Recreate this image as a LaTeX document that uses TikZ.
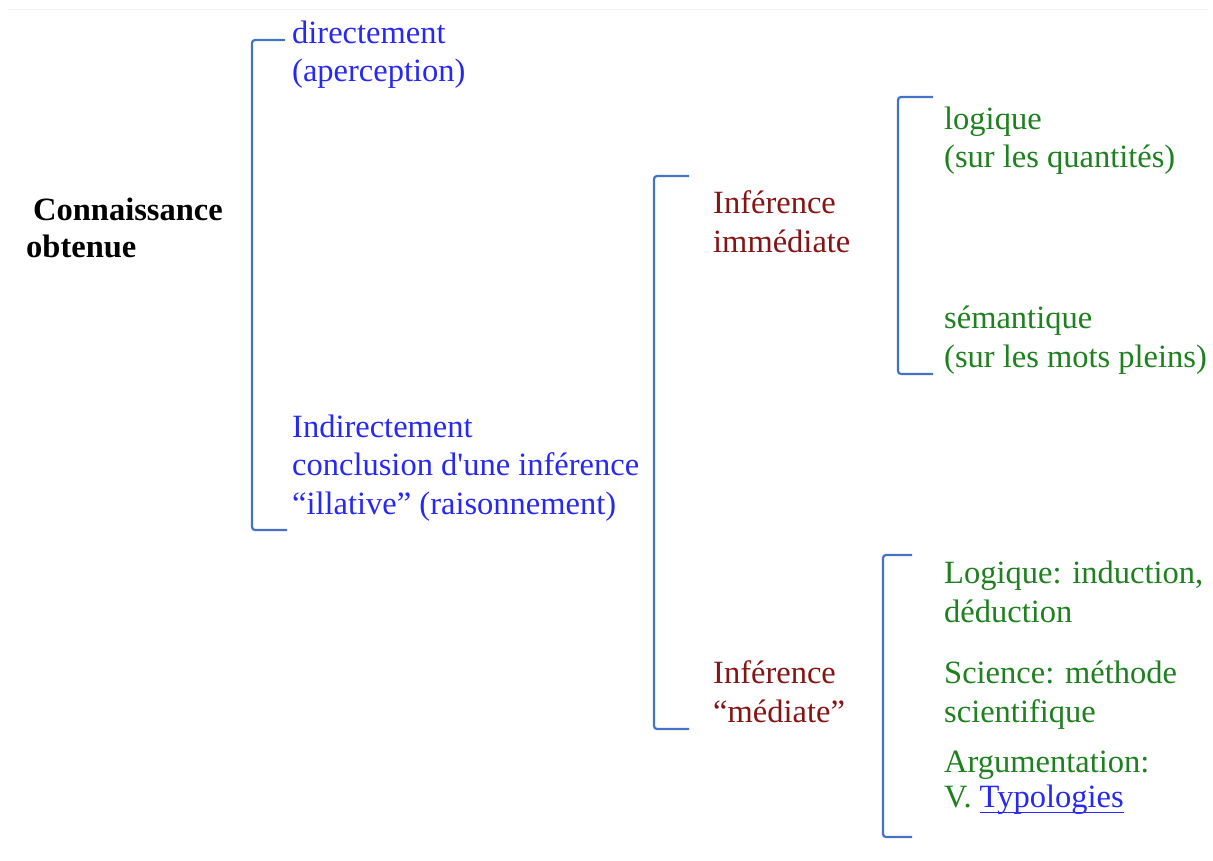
\documentclass[tikz,border=0pt]{standalone}
\usepackage{fontspec}
\setmainfont{Liberation Serif}[Ligatures=TeXOff]
\definecolor{bracketblue}{RGB}{68,114,196}
\definecolor{txtblue}{RGB}{40,40,245}
\definecolor{txtred}{RGB}{135,20,20}
\definecolor{txtgreen}{RGB}{30,128,30}
\newcommand\linkul[1]{\setbox0\hbox{#1}\rlap{\rule[-6pt]{\wd0}{1.4pt}}\box0}
\tikzset{
  lbl/.style={anchor=base west, inner sep=0pt, align=left,
    font=\fontsize{32.5}{38.5}\selectfont},
  root/.style={lbl, font=\fontsize{32.5}{37}\selectfont\bfseries, text=black},
  lvlone/.style={lbl, text=txtblue},
  lvltwo/.style={lbl, text=txtred},
  leaf/.style={lbl, text=txtgreen},
  brace/.style={draw=bracketblue, line width=2.2pt, rounded corners=3pt},
}
\begin{document}
\begin{tikzpicture}[x=1pt, y=-1pt]
\useasboundingbox (0,0) rectangle (1213,861);
% faint page edge
\draw[gray!12, line width=1.5pt] (8,9.5) -- (1208,9.5);

% root (anchored at the baseline of its last line)
\node[root] (root) at (26,258) {\hspace{7pt}Connaissance\\obtenue};

% first level
\draw[brace] (285,40) -- (252,40) -- (252,530) -- (287,530);
\node[lvlone] (direct) at (292,82) {directement\\(aperception)};
\node[lvlone] (indirect) at (292,514) {Indirectement\\conclusion d'une inférence\\“illative” (raisonnement)};

% second level
\draw[brace] (689,176) -- (654,176) -- (654,729) -- (689,729);
\node[lvltwo] (immed) at (713,252) {Inférence\\immédiate};
\node[lvltwo] (mediat) at (713,722) {Inférence\\“médiate”};

% leaves of the immediate inference
\draw[brace] (933,97) -- (898,97) -- (898,374) -- (933,374);
\node[leaf] (logq) at (944,168) {logique\\(sur les quantités)};
\node[leaf] (sem) at (944,367) {sémantique\\(sur les mots pleins)};

% leaves of the mediate inference
\draw[brace] (912,555) -- (883,555) -- (883,837) -- (912,837);
\node[leaf] (logind) at (944,622) {Logique: induction,\\déduction};
\node[leaf] (sci) at (944,722) {Science: méthode\\scientifique};
\node[leaf] (arg) at (944,807) {Argumentation:\\[-3.5pt]V. {\color{txtblue}\linkul{Typologies}}};
\end{tikzpicture}
\end{document}
